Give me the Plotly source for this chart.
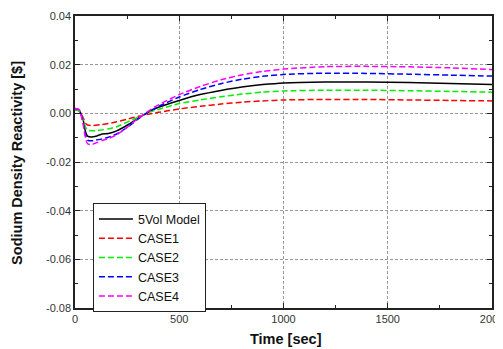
import plotly.graph_objects as go

time_sec = [0, 20, 40, 50, 60, 80, 100, 130, 160, 200, 250, 300, 350, 400, 500,
            600, 700, 800, 900, 1000, 1200, 1400, 1600, 1800, 2000]

vol5_model = [0.0019, 0.0012, -0.0030, -0.0075, -0.0094, -0.0097, -0.0094, -0.0085, -0.0083,
              -0.0072, -0.0049, -0.0022, 0.0004, 0.0025, 0.0053, 0.0077, 0.0094, 0.0108,
              0.0118, 0.0125, 0.0129, 0.0129, 0.0127, 0.0123, 0.0119]
case1 = [0.0015, 0.0010, -0.0020, -0.0040, -0.0048, -0.0050, -0.0049, -0.0046, -0.0042,
         -0.0035, -0.0024, -0.0013, -0.0004, 0.0004, 0.0018, 0.0029, 0.0038, 0.0046,
         0.0051, 0.0055, 0.0057, 0.0057, 0.0055, 0.0053, 0.0051]
case2 = [0.0015, 0.0010, -0.0030, -0.0055, -0.0068, -0.0072, -0.0071, -0.0068, -0.0064,
         -0.0055, -0.0036, -0.0017, 0.0002, 0.0016, 0.0040, 0.0055, 0.0068, 0.0079,
         0.0087, 0.0092, 0.0095, 0.0095, 0.0093, 0.0090, 0.0087]
case3 = [0.0020, 0.0015, -0.0040, -0.0090, -0.0110, -0.0113, -0.0110, -0.0105, -0.0098,
         -0.0085, -0.0058, -0.0025, 0.0005, 0.0028, 0.0067, 0.0098, 0.0122, 0.0140,
         0.0152, 0.0160, 0.0165, 0.0164, 0.0161, 0.0157, 0.0153]
case4 = [0.0020, 0.0015, -0.0050, -0.0100, -0.0125, -0.0128, -0.0122, -0.0112, -0.0104,
         -0.0088, -0.0058, -0.0022, 0.0008, 0.0035, 0.0077, 0.0110, 0.0138, 0.0158,
         0.0172, 0.0182, 0.0192, 0.0193, 0.0191, 0.0187, 0.0180]

series_names = ["5Vol Model", "CASE1", "CASE2", "CASE3", "CASE4"]
series_values = [vol5_model, case1, case2, case3, case4]
series_colors = ["#000000", "#ff0000", "#00ee00", "#0000ff", "#ff00ff"]
series_dash = ["solid", "6px,3px", "6px,3px", "6px,3px", "6px,3px"]

x_tick_vals = [0, 500, 1000, 1500, 2000]
y_tick_vals = [-0.08, -0.06, -0.04, -0.02, 0.00, 0.02, 0.04]
y_tick_text = ["-0.08", "-0.06", "-0.04", "-0.02", "0.00", "0.02", "0.04"]

x_title = "Time [sec]"
y_title = "Sodium Density Reactivity [$]"

FONT = "Arial, 'Liberation Sans', sans-serif"

fig = go.Figure()
for name, vals, col, dash in zip(series_names, series_values, series_colors, series_dash):
    fig.add_trace(go.Scatter(
        x=time_sec, y=vals, name=name, mode="lines",
        line=dict(color=col, width=1.5, dash=dash, shape="spline", smoothing=0.6),
    ))

axis_common = dict(
    showline=True, linecolor="#222", linewidth=1.5, mirror="ticks",
    ticks="inside", ticklen=5, tickwidth=1, tickcolor="#222",
    showgrid=True, gridcolor="#999", gridwidth=1, griddash="3px,2px",
    zeroline=False, automargin=False,
    tickfont=dict(family=FONT, size=11, color="#333"),
)

fig.update_xaxes(
    range=[0, 2000], tickvals=x_tick_vals,
    minor=dict(dtick=250, ticks="inside", ticklen=3, tickcolor="#222", showgrid=False),
    **axis_common,
)
fig.update_yaxes(
    range=[-0.08, 0.04], tickvals=y_tick_vals, ticktext=y_tick_text,
    minor=dict(dtick=0.01, ticks="inside", ticklen=3, tickcolor="#222", showgrid=False),
    **axis_common,
)

fig.add_annotation(
    text=f"<b>{x_title}</b>", xref="paper", yref="paper", x=0.506, y=0,
    xanchor="center", yanchor="middle", yshift=-31, showarrow=False,
    font=dict(family=FONT, size=14.5, color="#111"),
)
fig.add_annotation(
    text=f"<b>{y_title}</b>", xref="paper", yref="paper", x=0, y=0.497,
    xanchor="center", yanchor="middle", xshift=-58, textangle=-90, showarrow=False,
    font=dict(family=FONT, size=14.5, color="#111"),
)

fig.update_layout(
    width=503, height=349,
    margin=dict(l=67, r=19, t=7.5, b=49),
    paper_bgcolor="white", plot_bgcolor="white",
    showlegend=True,
    legend=dict(
        x=0.043, y=0.358, xanchor="left", yanchor="top",
        bgcolor="white", bordercolor="#222", borderwidth=1,
        font=dict(family=FONT, size=12.5, color="#111"),
        tracegroupgap=0, itemwidth=34,
    ),
    font=dict(family=FONT),
)

fig.write_html("out.html")
